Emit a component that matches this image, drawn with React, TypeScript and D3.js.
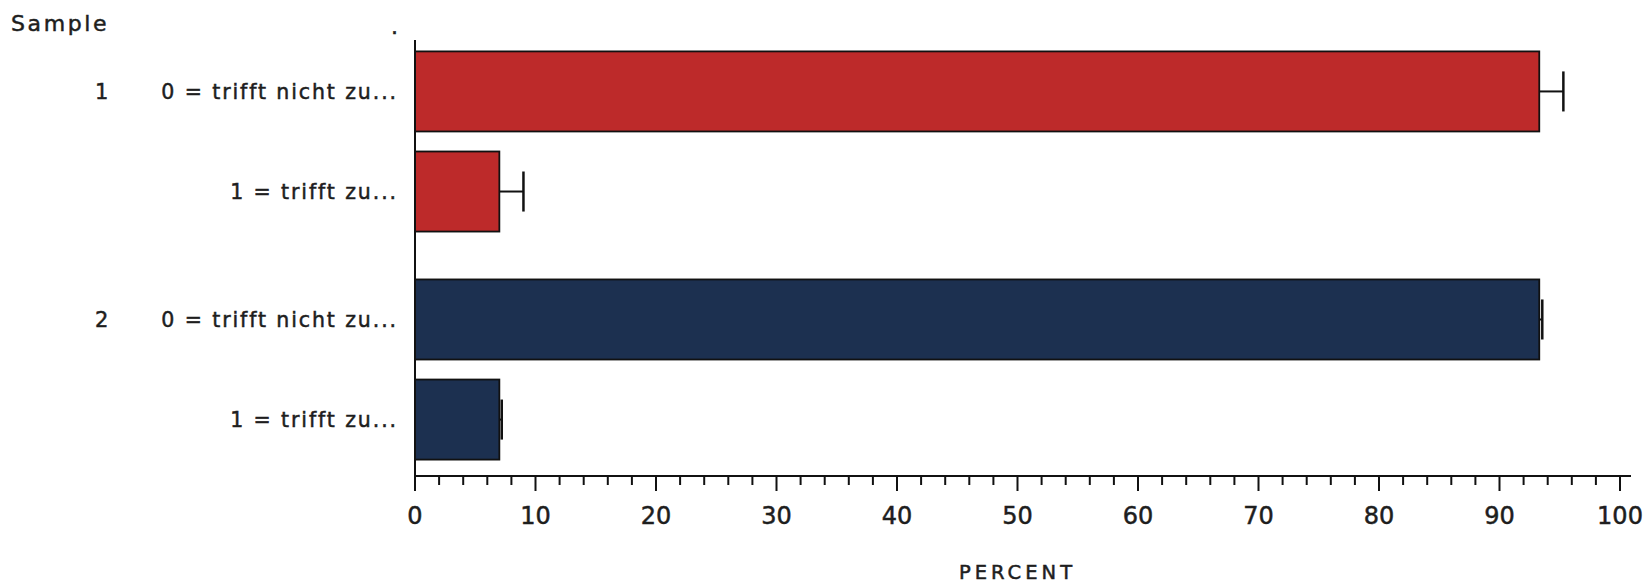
import React from 'react';
import * as d3 from 'd3';

// data
const samples = ['1', '2'];
const categories = ['0 = trifft nicht zu...', '1 = trifft zu...'];
const sample1Values = [93.3, 7.0];
const sample1Errors = [2.0, 2.0];
const sample2Values = [93.3, 7.0];
const sample2Errors = [0.25, 0.2];
const majorTicks = [0, 10, 20, 30, 40, 50, 60, 70, 80, 90, 100];
const minorTicks = d3.range(0, 101, 2);

const sampleColors = ['#bd2a2a', '#1c3050'];

const W = 1652;
const H = 585;
const font = '"DejaVu Sans", Verdana, sans-serif';
const ink = '#1e1e1e';

const App = () => {
  const x = d3.scaleLinear().domain([0, 100]).range([415, 1620]);
  const axisY = 476;
  const topY = 40;

  // outer band: sample groups, inner band: categories
  const yGroup = d3.scaleBand().domain(samples).range([topY, 471]).paddingInner(0.21).paddingOuter(0.05);
  const yCat = d3.scaleBand().domain(categories).range([0, yGroup.bandwidth()]).paddingInner(0.2);

  const rows = samples.flatMap((s, si) => {
    const vals = si === 0 ? sample1Values : sample2Values;
    const errs = si === 0 ? sample1Errors : sample2Errors;
    return categories.map((c, ci) => ({
      sample: s,
      cat: c,
      first: ci === 0,
      value: vals[ci],
      err: errs[ci],
      color: sampleColors[si],
      y: (yGroup(s) as number) + (yCat(c) as number),
    }));
  });
  const bh = yCat.bandwidth();

  const txt = { fontFamily: font, fill: ink, stroke: ink, strokeWidth: 0.5 };

  return (
    <svg width={W} height={H} style={{ position: 'absolute', left: 0, top: 0, background: '#fff' }}>
      <text x={11} y={31} fontSize={22} letterSpacing={2.6} {...txt}>Sample</text>
      <text x={391} y={34} fontSize={22} {...txt}>.</text>

      {rows.map((r, i) => {
        const cy = r.y + bh / 2;
        const x0 = x(0);
        const x1 = x(r.value);
        const xe = x(r.value + r.err);
        return (
          <g key={i}>
            <rect x={x0} y={r.y} width={x1 - x0} height={bh} fill={r.color} stroke="#111" strokeWidth={1.8} />
            <line x1={x1} x2={xe} y1={cy} y2={cy} stroke="#111" strokeWidth={2} />
            <line x1={xe} x2={xe} y1={cy - bh / 4} y2={cy + bh / 4} stroke="#111" strokeWidth={2.5} />
            {r.first && (
              <text x={95} y={cy} dy="0.36em" fontSize={21} {...txt}>{r.sample}</text>
            )}
            <text x={398} y={cy} dy="0.36em" textAnchor="end" fontSize={20.5} letterSpacing={1.9} {...txt}>{r.cat}</text>
          </g>
        );
      })}

      {/* y axis line */}
      <line x1={x(0)} x2={x(0)} y1={topY} y2={axisY} stroke="#111" strokeWidth={2} />

      {/* x axis */}
      <line x1={x(0) - 1} x2={x(100) + 11} y1={axisY} y2={axisY} stroke="#111" strokeWidth={2} />
      {minorTicks.map(t => (
        <line key={'m' + t} x1={x(t)} x2={x(t)} y1={axisY} y2={axisY + (t % 10 === 0 ? 15 : 9)} stroke="#111" strokeWidth={2} />
      ))}
      {majorTicks.map(t => (
        <text key={'t' + t} x={x(t)} y={524} textAnchor="middle" fontSize={24} {...txt}>{t}</text>
      ))}
      <text x={(x(0) + x(100)) / 2} y={579} textAnchor="middle" fontSize={19.5} letterSpacing={4} {...txt}>PERCENT</text>
    </svg>
  );
};

export default App;
